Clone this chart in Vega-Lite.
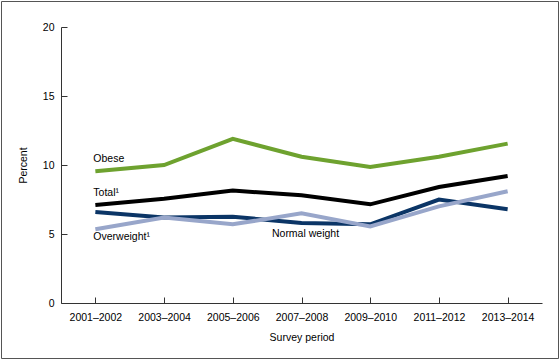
{
  "$schema": "https://vega.github.io/schema/vega-lite/v6.json",
  "autosize": {"type": "none"},
  "width": 557,
  "height": 357,
  "padding": {"left": 1, "top": 1, "right": 2, "bottom": 1},
  "background": "white",
  "config": {
    "view": {"stroke": "#555555", "strokeWidth": 1},
    "font": "Liberation Sans",
    "axis": {
      "labelFont": "Liberation Sans",
      "titleFont": "Liberation Sans",
      "labelFontSize": 10.5,
      "titleFontSize": 10.5,
      "titleFontWeight": "normal",
      "labelColor": "#000000",
      "titleColor": "#000000",
      "domainColor": "#333333",
      "tickColor": "#333333",
      "grid": false
    }
  },
  "datasets": {
    "series": [
      {"period": "2001–2002", "group": "Normal weight", "value": 6.6},
      {"period": "2003–2004", "group": "Normal weight", "value": 6.2},
      {"period": "2005–2006", "group": "Normal weight", "value": 6.25},
      {"period": "2007–2008", "group": "Normal weight", "value": 5.8},
      {"period": "2009–2010", "group": "Normal weight", "value": 5.7},
      {"period": "2011–2012", "group": "Normal weight", "value": 7.5},
      {"period": "2013–2014", "group": "Normal weight", "value": 6.8},
      {"period": "2001–2002", "group": "Overweight", "value": 5.35},
      {"period": "2003–2004", "group": "Overweight", "value": 6.2},
      {"period": "2005–2006", "group": "Overweight", "value": 5.7},
      {"period": "2007–2008", "group": "Overweight", "value": 6.5},
      {"period": "2009–2010", "group": "Overweight", "value": 5.55},
      {"period": "2011–2012", "group": "Overweight", "value": 7.0},
      {"period": "2013–2014", "group": "Overweight", "value": 8.1},
      {"period": "2001–2002", "group": "Total", "value": 7.1},
      {"period": "2003–2004", "group": "Total", "value": 7.55},
      {"period": "2005–2006", "group": "Total", "value": 8.15},
      {"period": "2007–2008", "group": "Total", "value": 7.8},
      {"period": "2009–2010", "group": "Total", "value": 7.15},
      {"period": "2011–2012", "group": "Total", "value": 8.4},
      {"period": "2013–2014", "group": "Total", "value": 9.2},
      {"period": "2001–2002", "group": "Obese", "value": 9.55},
      {"period": "2003–2004", "group": "Obese", "value": 10.0},
      {"period": "2005–2006", "group": "Obese", "value": 11.9},
      {"period": "2007–2008", "group": "Obese", "value": 10.6},
      {"period": "2009–2010", "group": "Obese", "value": 9.85},
      {"period": "2011–2012", "group": "Obese", "value": 10.6},
      {"period": "2013–2014", "group": "Obese", "value": 11.55}
    ],
    "leftLabels": [
      {"period": "2001–2002", "value": 10.45, "text": "Obese"},
      {"period": "2001–2002", "value": 7.97, "text": "Total¹"},
      {"period": "2001–2002", "value": 4.8, "text": "Overweight¹"}
    ],
    "centerLabels": [
      {"period": "2007–2008", "value": 5.0, "text": "Normal weight"}
    ]
  },
  "layer": [
    {
      "data": {"name": "series"},
      "mark": {"type": "line", "strokeWidth": 4, "strokeJoin": "miter"},
      "encoding": {
        "x": {
          "field": "period",
          "type": "ordinal",
          "scale": {"type": "point", "range": [60, 541], "padding": 0.5},
          "axis": {
            "title": "Survey period",
            "labelAngle": 0,
            "offset": -55,
            "tickSize": -6,
            "labelPadding": 15,
            "titlePadding": 10
          }
        },
        "y": {
          "field": "value",
          "type": "quantitative",
          "scale": {"domain": [0, 20], "range": [302, 26], "nice": false},
          "axis": {
            "title": "Percent",
            "values": [0, 5, 10, 15, 20],
            "offset": -60,
            "tickSize": -6,
            "labelPadding": 13,
            "titlePadding": 14
          }
        },
        "color": {
          "field": "group",
          "type": "nominal",
          "scale": {
            "domain": ["Normal weight", "Overweight", "Total", "Obese"],
            "range": ["#0b3566", "#98a6ca", "#000000", "#6ea22f"]
          },
          "legend": null
        },
        "order": {"field": "group"}
      }
    },
    {
      "data": {"name": "leftLabels"},
      "mark": {"type": "text", "fontSize": 10.5, "font": "Liberation Sans", "color": "#000000", "baseline": "middle", "align": "left", "dx": -2},
      "encoding": {
        "x": {"field": "period", "type": "ordinal"},
        "y": {"field": "value", "type": "quantitative"},
        "text": {"field": "text"}
      }
    },
    {
      "data": {"name": "centerLabels"},
      "mark": {"type": "text", "fontSize": 10.5, "font": "Liberation Sans", "color": "#000000", "baseline": "middle", "align": "center", "dx": 4},
      "encoding": {
        "x": {"field": "period", "type": "ordinal"},
        "y": {"field": "value", "type": "quantitative"},
        "text": {"field": "text"}
      }
    }
  ]
}
